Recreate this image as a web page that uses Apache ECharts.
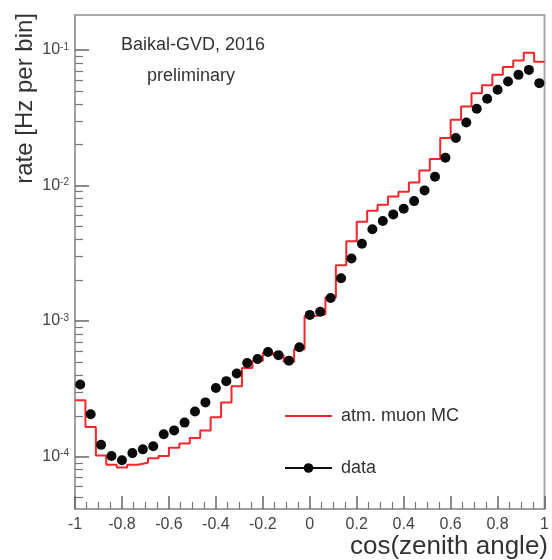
<!DOCTYPE html>
<html>
<head>
<meta charset="utf-8">
<script src="https://cdn.jsdelivr.net/npm/echarts@6/dist/echarts.min.js"></script>
<style>
  html, body { margin: 0; padding: 0; background: #fff; }
  #chart { width: 552px; height: 560px; }
</style>
</head>
<body>
<div id="chart"></div>
<script>
// histogram binning: 45 bins over cos(zenith) in [-1, 1]
const cosMin = -1
const cosMax = 1
const nBins = 45

// atm. muon MC, rate per bin [Hz]
const mcRate = [
  2.6e-4, 1.65e-4, 1.02e-4, 8.7e-5, 8.3e-5, 8.7e-5, 9.0e-5, 9.7e-5, 1.01e-4, 1.16e-4,
  1.25e-4, 1.37e-4, 1.56e-4, 1.95e-4, 2.5e-4, 3.3e-4, 4.5e-4, 5.1e-4, 5.8e-4, 5.6e-4,
  5.0e-4, 6.2e-4, 1.09e-3, 1.12e-3, 1.49e-3, 2.58e-3, 3.88e-3, 5.4e-3, 6.5e-3, 7.2e-3,
  8.3e-3, 9.0e-3, 1.05e-2, 1.29e-2, 1.57e-2, 2.24e-2, 3.05e-2, 3.83e-2, 4.8e-2, 5.5e-2,
  6.55e-2, 7.5e-2, 8.35e-2, 9.55e-2, 8.2e-2
]

// data, rate per bin [Hz]
const dataRate = [
  3.4e-4, 2.05e-4, 1.22e-4, 1.01e-4, 9.4e-5, 1.06e-4, 1.13e-4, 1.19e-4, 1.46e-4, 1.56e-4,
  1.78e-4, 2.15e-4, 2.51e-4, 3.2e-4, 3.6e-4, 4.1e-4, 4.9e-4, 5.25e-4, 5.9e-4, 5.6e-4,
  5.1e-4, 6.4e-4, 1.11e-3, 1.17e-3, 1.48e-3, 2.07e-3, 2.89e-3, 3.72e-3, 4.75e-3, 5.47e-3,
  6.12e-3, 6.74e-3, 7.67e-3, 9.2e-3, 1.16e-2, 1.6e-2, 2.24e-2, 2.92e-2, 3.68e-2, 4.36e-2,
  5.08e-2, 5.85e-2, 6.55e-2, 7.13e-2, 5.69e-2
]

// y axis: decades with labels, minor ticks at 2..9 x 10^n
const yDecades = [-4, -3, -2, -1]
const yMinorMult = [2, 3, 4, 5, 6, 7, 8, 9]
const yMin = -4.387
const yMax = -0.742

const fontName = 'Liberation Sans, Arial, Helvetica, sans-serif'
const binW = (cosMax - cosMin) / nBins

// step line: left edge of each bin, plus the right edge of the last one
let mcLine = mcRate.map(function (v, i) {
  return [cosMin + i * binW, Math.log10(v)]
})
mcLine.push([cosMax, Math.log10(mcRate[nBins - 1])])

let dataPts = dataRate.map(function (v, i) {
  return [cosMin + (i + 0.5) * binW, Math.log10(v)]
})

let minorTicks = []
for (let d = -5; d <= -1; d++) {
  yMinorMult.forEach(function (m) {
    let t = d + Math.log10(m)
    if (t > yMin && t < yMax) minorTicks.push(t)
  })
}

let myChart = echarts.init(document.getElementById('chart'))
var option = {
  animation: false,
  backgroundColor: '#fff',
  grid: {
    left: 75,
    right: 5,
    top: 15,
    bottom: 51,
    show: true,
    borderColor: '#a8a8a8',
    borderWidth: 2
  },
  legend: {
    left: 284,
    top: 407,
    orient: 'vertical',
    padding: 0,
    itemWidth: 47,
    itemHeight: 12,
    itemGap: 34,
    textStyle: {
      fontFamily: fontName,
      fontSize: 18,
      color: '#333',
      padding: [0, 0, 0, 4]
    },
    data: [
      { name: 'atm. muon MC', itemStyle: { opacity: 0 } },
      { name: 'data', lineStyle: { opacity: 1, color: '#111', width: 2 } }
    ]
  },
  xAxis: {
    type: 'value',
    min: cosMin,
    max: cosMax,
    interval: 0.2,
    axisLine: { onZero: false, lineStyle: { color: '#a0a0a0', width: 2 } },
    axisTick: { inside: true, length: 13, lineStyle: { color: '#666', width: 1.5 } },
    minorTick: { show: true, splitNumber: 4, length: 7, lineStyle: { color: '#777', width: 1.2 } },
    splitLine: { show: false },
    axisLabel: {
      margin: 8,
      fontFamily: fontName,
      fontSize: 16,
      color: '#444',
      formatter: function (v) {
        return String(Math.round(v * 10) / 10)
      }
    }
  },
  yAxis: [
    {
      type: 'value',
      position: 'left',
      min: yMin,
      max: yMax,
      axisLine: { onZero: false, lineStyle: { color: '#a0a0a0', width: 2 } },
      axisTick: { inside: true, length: 14, customValues: yDecades, lineStyle: { color: '#666', width: 1.5 } },
      splitLine: { show: false },
      axisLabel: {
        customValues: yDecades,
        margin: 6,
        color: '#444',
        fontFamily: fontName,
        formatter: function (v) {
          return '{b|10}{s|' + v + '}'
        },
        rich: {
          b: { fontSize: 16, fontFamily: fontName, color: '#444' },
          s: { fontSize: 10, fontFamily: fontName, color: '#444', verticalAlign: 'top' }
        }
      }
    },
    {
      type: 'value',
      position: 'left',
      min: yMin,
      max: yMax,
      axisLine: { show: false, onZero: false },
      axisTick: { inside: true, length: 8, customValues: minorTicks, lineStyle: { color: '#777', width: 1.2 } },
      axisLabel: { show: false },
      splitLine: { show: false }
    }
  ],
  graphic: [
    {
      type: 'text',
      x: 193,
      y: 45,
      style: { text: 'Baikal-GVD, 2016', fontFamily: fontName, fontSize: 18, fill: '#333', align: 'center', verticalAlign: 'middle' }
    },
    {
      type: 'text',
      x: 191,
      y: 76,
      style: { text: 'preliminary', fontFamily: fontName, fontSize: 18, fill: '#333', align: 'center', verticalAlign: 'middle' }
    },
    {
      type: 'text',
      x: 548,
      y: 547,
      style: { text: 'cos(zenith angle)', fontFamily: fontName, fontSize: 26, fill: '#333', align: 'right', verticalAlign: 'middle' }
    },
    {
      type: 'text',
      x: 25,
      y: 13,
      rotation: Math.PI / 2,
      style: { text: 'rate [Hz per bin]', fontFamily: fontName, fontSize: 24, fill: '#333', align: 'right', verticalAlign: 'middle' }
    }
  ],
  series: [
    {
      name: 'atm. muon MC',
      type: 'line',
      step: 'end',
      symbol: 'none',
      data: mcLine,
      lineStyle: { color: '#f2262b', width: 2 },
      itemStyle: { color: '#f2262b' },
      z: 2
    },
    {
      name: 'data',
      type: 'line',
      data: dataPts,
      symbol: 'circle',
      symbolSize: 10,
      showSymbol: true,
      lineStyle: { opacity: 0 },
      itemStyle: { color: '#0a0a0a' },
      z: 3
    }
  ]
}
myChart.setOption(option)
</script>
</body>
</html>
